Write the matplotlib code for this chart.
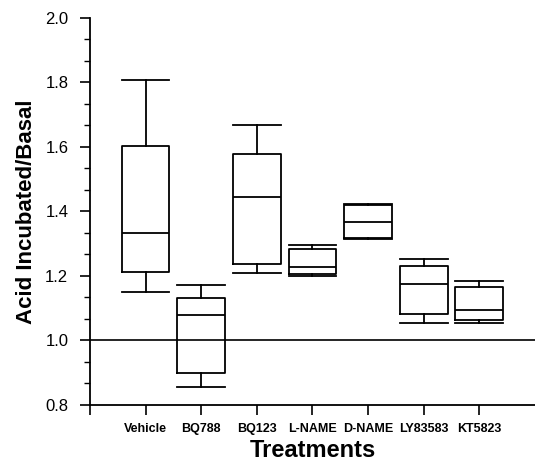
import numpy as np
import matplotlib.pyplot as plt
from matplotlib.ticker import MultipleLocator

plt.rcParams['font.family'] = ['Liberation Sans', 'DejaVu Sans']

# treatment groups and their box statistics (ratio acid incubated / basal)
treatments = ['Vehicle', 'BQ788', 'BQ123', 'L-NAME', 'D-NAME', 'LY83583', 'KT5823']
whislo = [1.151, 0.856, 1.208, 1.200, 1.314, 1.055, 1.053]
q1 = [1.213, 0.898, 1.236, 1.205, 1.317, 1.082, 1.064]
med = [1.334, 1.078, 1.446, 1.227, 1.367, 1.176, 1.094]
q3 = [1.603, 1.131, 1.577, 1.283, 1.420, 1.232, 1.165]
whishi = [1.808, 1.172, 1.668, 1.296, 1.423, 1.252, 1.185]

stats = []
for i in range(len(treatments)):
    stats.append(dict(label=treatments[i], whislo=whislo[i], q1=q1[i], med=med[i],
                      q3=q3[i], whishi=whishi[i], fliers=[]))

fig = plt.figure(figsize=(5.35, 4.61), dpi=100)
ax = fig.add_axes([0.168, 0.1215, 0.832, 0.8395])

pos = np.arange(1, len(treatments) + 1)
lw = 1.3
ax.bxp(stats, positions=pos, widths=0.86, capwidths=0.86, showfliers=False,
       boxprops=dict(color='black', linewidth=lw),
       medianprops=dict(color='black', linewidth=lw),
       whiskerprops=dict(color='black', linewidth=lw),
       capprops=dict(color='black', linewidth=lw))

# reference line at ratio 1
ax.axhline(1.0, color='black', linewidth=1.2, zorder=0)

ax.set_xlim(0, 8)
ax.set_ylim(0.8, 2.0)
ax.set_xticks(np.arange(0, 8))
ax.set_xticklabels([''] + treatments, fontsize=9, fontweight='bold')
ax.yaxis.set_major_locator(MultipleLocator(0.2))
ax.yaxis.set_minor_locator(MultipleLocator(0.2 / 3))
ax.set_yticklabels([f'{v:.1f}' for v in ax.get_yticks()], fontsize=12)

ax.spines['top'].set_visible(False)
ax.spines['right'].set_visible(False)
for s in ['left', 'bottom']:
    ax.spines[s].set_linewidth(1.3)
ax.tick_params(axis='both', which='major', direction='out', length=7, width=1.2)
ax.tick_params(axis='y', which='major', pad=8.5)
ax.tick_params(axis='y', which='minor', direction='out', length=4, width=1.0)
ax.tick_params(axis='x', which='major', pad=6)

ax.set_xlabel('Treatments', fontsize=17, fontweight='bold', labelpad=3)
ax.set_ylabel('Acid Incubated/Basal', fontsize=16, fontweight='bold', labelpad=6)

fig.savefig('out.png', dpi=100)
